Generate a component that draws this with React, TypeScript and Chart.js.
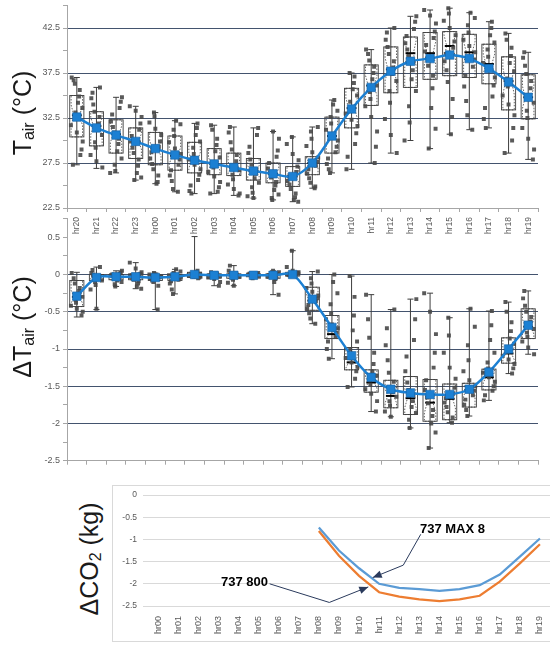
import React, { useEffect, useRef } from 'react';
import { Chart, registerables } from 'chart.js';

Chart.register(...registerables);

// ---------- categories ----------
const hours = ['hr20', 'hr21', 'hr22', 'hr23', 'hr00', 'hr01', 'hr02', 'hr03', 'hr04', 'hr05', 'hr06', 'hr07',
  'hr08', 'hr09', 'hr10', 'hr11', 'hr12', 'hr13', 'hr14', 'hr15', 'hr16', 'hr17', 'hr18', 'hr19'];
const co2Hours = ['hr00', 'hr01', 'hr02', 'hr03', 'hr04', 'hr05', 'hr06', 'hr07', 'hr08', 'hr09',
  'hr10', 'hr11', 'hr12', 'hr13', 'hr14', 'hr15', 'hr16', 'hr17', 'hr18', 'hr19'];

// ---------- Tair (°C) ----------
const tairMean = [32.6, 31.4, 30.6, 29.9, 29.1, 28.4, 27.8, 27.4, 27.0, 26.6, 26.3, 26.0, 27.5, 30.5, 33.5, 35.9, 37.7, 38.8, 39.1, 39.5, 39.1, 38.0, 36.5, 34.8];
const tairMedian = [32.8, 31.6, 30.7, 29.9, 29.1, 28.3, 27.8, 27.4, 27.0, 26.6, 26.3, 26.0, 27.5, 30.5, 33.6, 36.1, 37.9, 39.7, 39.7, 40.5, 39.8, 38.5, 36.6, 34.8];
const tairQ1 = [30.4, 29.4, 28.6, 28.0, 27.3, 26.7, 26.4, 26.2, 26.1, 25.6, 25.3, 24.9, 26.2, 28.6, 31.4, 33.9, 35.3, 35.9, 36.8, 37.2, 37.0, 36.3, 33.4, 32.4];
const tairQ3 = [35.0, 33.2, 32.3, 31.4, 30.9, 30.5, 29.8, 29.1, 28.6, 28.0, 27.5, 27.1, 28.2, 32.6, 35.8, 38.4, 40.4, 41.5, 42.0, 42.1, 41.8, 40.7, 39.3, 37.3];
const tairMin = [27.3, 26.9, 26.4, 25.6, 25.2, 24.3, 24.1, 24.1, 23.9, 23.6, 23.4, 23.2, 24.7, 26.4, 26.8, 27.5, 28.6, 30.0, 29.1, 30.7, 31.2, 31.4, 28.6, 27.9];
const tairMax = [37.0, 35.9, 34.8, 33.8, 33.1, 32.2, 31.9, 31.7, 31.5, 31.4, 31.0, 30.4, 31.5, 34.5, 37.5, 40.1, 42.5, 43.8, 44.5, 44.7, 44.2, 43.2, 41.9, 39.8];
const tairPoints = [
  [37.0, 36.7, 36.3, 35.6, 34.9, 34.2, 33.6, 33.1, 32.4, 31.7, 30.9, 29.9, 29.0, 28.4, 27.3],
  [35.9, 35.3, 34.7, 34.0, 33.2, 32.6, 31.9, 31.2, 30.6, 29.8, 29.2, 28.4, 27.7, 27.0],
  [34.8, 34.3, 33.6, 32.9, 32.1, 31.5, 30.9, 30.2, 29.6, 28.8, 28.0, 27.3, 26.6, 26.4],
  [33.8, 33.3, 32.6, 31.9, 31.2, 30.5, 29.9, 29.2, 28.6, 27.9, 27.2, 26.4, 25.9, 25.6],
  [33.1, 32.7, 32.0, 31.3, 30.6, 29.9, 29.3, 28.7, 28.0, 27.4, 26.8, 26.1, 25.4, 25.2],
  [32.2, 31.8, 31.2, 30.5, 29.8, 29.1, 28.5, 27.9, 27.3, 26.7, 26.1, 25.5, 24.6, 24.3],
  [31.9, 31.4, 30.6, 29.9, 29.2, 28.5, 27.9, 27.3, 26.8, 26.2, 25.6, 25.0, 24.4, 24.1],
  [31.7, 31.2, 30.2, 29.5, 28.8, 28.1, 27.6, 27.0, 26.5, 26.0, 25.4, 24.8, 24.3, 24.1],
  [31.5, 30.9, 29.8, 29.0, 28.4, 27.7, 27.2, 26.7, 26.2, 25.7, 25.1, 24.6, 24.1, 23.9],
  [31.4, 30.6, 29.3, 28.6, 27.9, 27.3, 26.8, 26.3, 25.8, 25.3, 24.8, 24.2, 23.8, 23.6],
  [31.0, 30.2, 28.9, 28.2, 27.5, 26.9, 26.4, 25.9, 25.4, 25.0, 24.5, 24.0, 23.6, 23.4],
  [30.4, 29.6, 28.5, 27.8, 27.1, 26.5, 26.0, 25.5, 25.1, 24.6, 24.1, 23.7, 23.4, 23.2],
  [31.5, 31.0, 30.2, 29.4, 28.7, 28.1, 27.6, 27.2, 26.8, 26.3, 25.8, 25.3, 24.9, 24.7],
  [34.5, 34.0, 33.3, 32.6, 31.9, 31.2, 30.6, 30.0, 29.3, 28.7, 28.0, 27.4, 26.8, 26.4],
  [37.5, 37.1, 36.4, 35.7, 35.0, 34.3, 33.7, 33.0, 32.3, 31.6, 30.8, 29.6, 28.2, 26.8],
  [40.1, 39.6, 38.9, 38.2, 37.5, 36.8, 36.1, 35.4, 34.6, 33.8, 32.6, 31.0, 29.3, 27.5],
  [42.5, 42.0, 41.2, 40.4, 39.6, 38.8, 38.1, 37.4, 36.6, 35.5, 34.2, 32.4, 30.6, 28.6],
  [43.8, 43.2, 42.4, 41.6, 40.8, 40.1, 39.4, 38.7, 37.8, 36.8, 35.5, 33.8, 32.0, 30.0],
  [44.5, 43.9, 43.0, 42.1, 41.4, 40.6, 39.9, 39.1, 38.3, 37.2, 35.8, 33.6, 31.3, 29.1],
  [44.7, 44.1, 43.3, 42.5, 41.7, 41.0, 40.3, 39.6, 38.8, 37.8, 36.5, 34.6, 32.6, 30.7],
  [44.2, 43.6, 42.8, 42.0, 41.2, 40.5, 39.8, 39.0, 38.2, 37.2, 36.0, 34.4, 32.8, 31.2],
  [43.2, 42.5, 41.7, 40.9, 40.1, 39.3, 38.6, 37.9, 37.0, 36.1, 34.9, 33.6, 32.4, 31.4],
  [41.9, 41.2, 40.3, 39.4, 38.6, 37.7, 36.9, 36.0, 35.0, 34.0, 32.8, 31.4, 30.0, 28.6],
  [39.8, 39.2, 38.3, 37.4, 36.6, 35.8, 35.0, 34.2, 33.3, 32.5, 31.4, 30.2, 29.0, 27.9],
];

// ---------- ΔTair (°C) ----------
const dtMean = [-0.29, -0.04, -0.03, -0.03, -0.04, -0.03, 0.0, -0.01, -0.01, -0.01, -0.01, 0.0, -0.33, -0.71, -1.09, -1.38, -1.54, -1.59, -1.61, -1.61, -1.54, -1.31, -1.0, -0.68];
const dtMedian = [-0.3, -0.03, -0.02, -0.02, -0.03, -0.02, 0.0, -0.01, -0.01, -0.01, -0.01, 0.0, -0.35, -0.8, -1.18, -1.45, -1.63, -1.66, -1.72, -1.67, -1.55, -1.38, -1.06, -0.7];
const dtQ1 = [-0.43, -0.08, -0.07, -0.07, -0.08, -0.08, -0.04, -0.05, -0.05, -0.03, -0.05, -0.02, -0.48, -0.86, -1.28, -1.58, -1.79, -1.88, -1.97, -1.95, -1.78, -1.55, -1.19, -0.86];
const dtQ3 = [-0.08, 0.0, 0.0, 0.01, 0.0, 0.0, 0.03, 0.01, 0.01, 0.01, 0.01, 0.03, -0.17, -0.55, -0.98, -1.28, -1.42, -1.37, -1.41, -1.47, -1.46, -1.27, -0.85, -0.46];
const dtMin = [-0.57, -0.47, -0.16, -0.19, -0.47, -0.26, -0.05, -0.15, -0.15, -0.05, -0.27, -0.02, -0.66, -1.13, -1.51, -1.84, -1.91, -2.06, -2.33, -1.99, -1.9, -1.69, -1.33, -1.07];
const dtMax = [0.03, 0.1, 0.05, 0.16, 0.02, 0.07, 0.51, 0.03, 0.12, 0.02, 0.05, 0.32, 0.04, 0.0, -0.02, -0.27, -0.47, -0.33, -0.25, -0.58, -0.46, -0.49, -0.37, -0.22];
const dtPoints = [
  [0.02, -0.05, -0.12, -0.18, -0.22, -0.27, -0.3, -0.34, -0.38, -0.42, -0.46, -0.5, -0.55],
  [0.1, 0.06, 0.02, 0.0, -0.02, -0.03, -0.05, -0.06, -0.08, -0.1, -0.14, -0.2, -0.46],
  [0.05, 0.03, 0.01, 0.0, -0.01, -0.02, -0.03, -0.05, -0.06, -0.08, -0.1, -0.13, -0.16],
  [0.16, 0.08, 0.03, 0.01, 0.0, -0.02, -0.03, -0.05, -0.07, -0.09, -0.12, -0.16, -0.19],
  [0.02, 0.01, 0.0, -0.01, -0.02, -0.03, -0.04, -0.05, -0.06, -0.08, -0.1, -0.15, -0.47],
  [0.07, 0.04, 0.02, 0.0, -0.01, -0.02, -0.03, -0.05, -0.07, -0.09, -0.12, -0.2, -0.26],
  [0.05, 0.03, 0.02, 0.01, 0.0, -0.01, -0.01, -0.02, -0.03, -0.04, -0.05],
  [0.03, 0.02, 0.01, 0.0, -0.01, -0.02, -0.02, -0.03, -0.04, -0.06, -0.1, -0.15],
  [0.12, 0.05, 0.02, 0.01, 0.0, -0.01, -0.02, -0.03, -0.05, -0.07, -0.11, -0.15],
  [0.02, 0.01, 0.01, 0.0, 0.0, -0.01, -0.01, -0.02, -0.02, -0.03, -0.04, -0.05],
  [0.05, 0.03, 0.01, 0.0, -0.01, -0.02, -0.02, -0.03, -0.04, -0.06, -0.1, -0.27],
  [0.32, 0.1, 0.05, 0.03, 0.02, 0.01, 0.0, 0.0, -0.01, -0.01, -0.02, -0.02],
  [0.04, -0.05, -0.12, -0.18, -0.23, -0.28, -0.32, -0.36, -0.41, -0.46, -0.52, -0.59, -0.66],
  [0.0, -0.1, -0.25, -0.4, -0.52, -0.6, -0.67, -0.72, -0.78, -0.84, -0.9, -1.0, -1.13],
  [-0.02, -0.3, -0.55, -0.75, -0.9, -1.0, -1.06, -1.12, -1.18, -1.24, -1.3, -1.4, -1.51],
  [-0.27, -0.6, -0.85, -1.05, -1.2, -1.3, -1.36, -1.42, -1.48, -1.54, -1.6, -1.7, -1.84],
  [-0.47, -0.72, -0.95, -1.15, -1.32, -1.44, -1.52, -1.58, -1.64, -1.7, -1.76, -1.84, -1.91],
  [-0.33, -0.6, -0.88, -1.1, -1.3, -1.45, -1.55, -1.63, -1.7, -1.78, -1.86, -1.95, -2.06],
  [-0.25, -0.5, -0.8, -1.05, -1.25, -1.42, -1.55, -1.65, -1.73, -1.82, -1.9, -2.0, -2.12, -2.33],
  [-0.58, -0.82, -1.05, -1.25, -1.4, -1.52, -1.6, -1.66, -1.72, -1.78, -1.85, -1.92, -1.99],
  [-0.46, -0.7, -0.95, -1.15, -1.3, -1.42, -1.5, -1.56, -1.62, -1.68, -1.75, -1.82, -1.9],
  [-0.49, -0.68, -0.88, -1.05, -1.18, -1.26, -1.32, -1.38, -1.44, -1.5, -1.56, -1.62, -1.69],
  [-0.37, -0.5, -0.64, -0.76, -0.86, -0.93, -0.99, -1.04, -1.09, -1.14, -1.2, -1.26, -1.33],
  [-0.22, -0.32, -0.42, -0.5, -0.57, -0.63, -0.68, -0.73, -0.78, -0.84, -0.9, -0.98, -1.07],
];

// ---------- ΔCO2 (kg) ----------
const co2Max8 = [null, null, null, null, null, null, null, null, -0.73, -1.25, -1.65, -2.0, -2.09, -2.12, -2.16, -2.12, -2.03, -1.79, -1.39, -0.98];
const co2B800 = [null, null, null, null, null, null, null, null, -0.81, -1.37, -1.82, -2.19, -2.29, -2.35, -2.39, -2.35, -2.27, -1.95, -1.54, -1.11];

// ---------- styling ----------
const FONT = '"Liberation Sans", Arial, Helvetica, sans-serif';
const GRID_DARK = '#43536e';
const AXIS_GRAY = '#a6a6a6';
const LABEL_GRAY = '#595959';
const MEAN_BLUE = '#1c80d3';
const POINT_GRAY = 'rgba(72,72,72,0.9)';
const BOX_STROKE = '#3d3d3d';
const ARROW = '#2a3a5c';
const jitter = [-0.26, 0.12, -0.04, 0.24, -0.16, 0.06, -0.3, 0.18, -0.1, 0.28, 0.0, -0.2, 0.15, -0.07, 0.3];

const callouts = [
  { label: '737 MAX 8', align: 'left', text: [13.03, -0.77], path: [[13.07, -0.885], [12.2, -1.58], [10.68, -1.86]] },
  { label: '737 800', align: 'right', text: [5.47, -1.98], path: [[5.55, -2.0], [8.52, -2.42], [10.46, -2.07]] },
];

Chart.defaults.font.family = FONT;

function scatterData(points: number[][]) {
  return points.flatMap((vals, i) =>
    vals.map((v, j) => ({ x: i + jitter[(j * 4 + i * 7) % jitter.length], y: v })));
}

type Stats = { lo: number[]; q1: number[]; q3: number[]; hi: number[]; med: number[] };

function makeBoxPlugin(s: Stats) {
  return {
    id: 'boxes',
    beforeDatasetsDraw(chart: any) {
      const ctx = chart.ctx;
      const xs = chart.scales.x;
      const ys = chart.scales.y;
      const step = xs.getPixelForValue(1) - xs.getPixelForValue(0);
      ctx.save();
      for (let i = 0; i < s.q1.length; i++) {
        const x = xs.getPixelForValue(i);
        const yLo = ys.getPixelForValue(s.lo[i]);
        const yHi = ys.getPixelForValue(s.hi[i]);
        const y1 = ys.getPixelForValue(s.q1[i]);
        const y3 = ys.getPixelForValue(s.q3[i]);
        const ym = ys.getPixelForValue(s.med[i]);
        // whisker + caps
        ctx.setLineDash([]);
        ctx.strokeStyle = BOX_STROKE;
        ctx.lineWidth = 1;
        ctx.beginPath();
        ctx.moveTo(x, yHi); ctx.lineTo(x, yLo);
        ctx.moveTo(x - 3, yHi); ctx.lineTo(x + 3, yHi);
        ctx.moveTo(x - 3, yLo); ctx.lineTo(x + 3, yLo);
        ctx.stroke();
        // solid box
        const bw = step * 0.72;
        ctx.lineWidth = 0.9;
        ctx.strokeRect(x - bw / 2, y3, bw, y1 - y3);
        // dotted notched box
        const dw = step * 0.29;
        const ww = step * 0.15;
        const nh = Math.min((y1 - y3) * 0.25, ym - y3, y1 - ym);
        ctx.setLineDash([1.5, 1.5]);
        ctx.lineWidth = 0.8;
        ctx.beginPath();
        ctx.moveTo(x - dw, y3); ctx.lineTo(x + dw, y3);
        ctx.lineTo(x + dw, ym - nh); ctx.lineTo(x + ww, ym); ctx.lineTo(x + dw, ym + nh);
        ctx.lineTo(x + dw, y1); ctx.lineTo(x - dw, y1);
        ctx.lineTo(x - dw, ym + nh); ctx.lineTo(x - ww, ym); ctx.lineTo(x - dw, ym - nh);
        ctx.closePath();
        ctx.stroke();
        // median
        ctx.setLineDash([]);
        ctx.strokeStyle = '#000';
        ctx.lineWidth = 2;
        ctx.beginPath();
        ctx.moveTo(x - step * 0.25, ym); ctx.lineTo(x + step * 0.25, ym);
        ctx.stroke();
      }
      ctx.restore();
    },
  };
}

function boxPanel(p: any) {
  return {
    type: 'line',
    data: {
      labels: hours,
      datasets: [
        {
          type: 'line', data: p.mean, xAxisID: 'x', yAxisID: 'y',
          borderColor: MEAN_BLUE, backgroundColor: MEAN_BLUE, borderWidth: 2.5,
          pointStyle: 'rect', pointRadius: 6, pointBorderWidth: 0.6, pointBorderColor: '#155fa3',
          tension: 0.3, order: 0,
        },
        {
          type: 'scatter', data: scatterData(p.points), xAxisID: 'xj', yAxisID: 'y',
          backgroundColor: POINT_GRAY, borderWidth: 0, pointStyle: 'rect', pointRadius: 2.8, order: 1,
        },
      ],
    },
    options: {
      responsive: false,
      animation: false,
      events: [],
      layout: { autoPadding: false, padding: { top: p.padTop, right: 12, left: 0, bottom: 0 } },
      plugins: { legend: { display: false }, tooltip: { enabled: false } },
      scales: {
        x: {
          type: 'category', offset: true,
          grid: { offset: true, drawOnChartArea: false, tickLength: 4, color: AXIS_GRAY },
          border: { color: AXIS_GRAY },
          ticks: {
            display: p.showXLabels, minRotation: 90, maxRotation: 90, autoSkip: false, padding: 5,
            color: LABEL_GRAY, font: { family: FONT, size: 8.5 },
          },
          afterFit: (s: any) => { s.height = p.xHeight; s.paddingLeft = 0; s.paddingRight = 0; },
        },
        xj: { type: 'linear', axis: 'x', display: false, min: -0.5, max: 23.5 },
        y: {
          min: p.yMin, max: p.yMax,
          ticks: {
            stepSize: p.step, autoSkip: false, padding: 3,
            color: LABEL_GRAY, font: { family: FONT, size: 9 },
            callback: (v: number) => (p.isMajor(v) ? p.fmt(v) : ''),
          },
          grid: {
            color: (c: any) => (c.tick && p.gridAt(c.tick.value) ? GRID_DARK : 'rgba(0,0,0,0)'),
            tickColor: AXIS_GRAY, tickLength: 4, lineWidth: 1,
          },
          border: { color: AXIS_GRAY },
          afterFit: (s: any) => { s.width = 67; s.paddingTop = 0; s.paddingBottom = 0; },
        },
      },
    },
    plugins: [makeBoxPlugin(p.stats)],
  };
}

const near = (a: number, b: number) => Math.abs(a - b) < 1e-6;

function topConfig() {
  const isMajor = (v: number) => near((v - 22.5) / 5, Math.round((v - 22.5) / 5));
  return boxPanel({
    mean: tairMean, points: tairPoints,
    stats: { lo: tairMin, q1: tairQ1, q3: tairQ3, hi: tairMax, med: tairMedian },
    yMin: 22.5, yMax: 45, step: 2.5, padTop: 5.5, xHeight: 32, showXLabels: true,
    isMajor, fmt: (v: number) => v.toFixed(1),
    gridAt: (v: number) => isMajor(v) && v > 23,
  });
}

function midConfig() {
  const isMajor = (v: number) => near(v * 2, Math.round(v * 2)) && v < 0.7;
  return boxPanel({
    mean: dtMean, points: dtPoints,
    stats: { lo: dtMin, q1: dtQ1, q3: dtQ3, hi: dtMax, med: dtMedian },
    yMin: -2.5, yMax: 0.75, step: 0.25, padTop: 0.7, xHeight: 7.3, showXLabels: false,
    isMajor, fmt: (v: number) => String(Math.round(v * 100) / 100),
    gridAt: (v: number) => isMajor(v) && v > -2.4 && v < 0.3,
  });
}

const calloutPlugin = {
  id: 'callouts',
  afterDatasetsDraw(chart: any) {
    const ctx = chart.ctx;
    const xs = chart.scales.x;
    const ys = chart.scales.y;
    const P = (c: number[]) => [xs.getPixelForValue(c[0]), ys.getPixelForValue(c[1])];
    ctx.save();
    for (const c of callouts) {
      ctx.font = `bold 13px ${FONT}`;
      ctx.fillStyle = '#000';
      ctx.textBaseline = 'middle';
      ctx.textAlign = c.align;
      const [tx, ty] = P(c.text);
      ctx.fillText(c.label, tx, ty);
      const pts = c.path.map(P);
      ctx.strokeStyle = ARROW;
      ctx.lineWidth = 1;
      ctx.beginPath();
      pts.forEach(([x, y], k) => (k ? ctx.lineTo(x, y) : ctx.moveTo(x, y)));
      ctx.stroke();
      const [ax, ay] = pts[pts.length - 2];
      const [bx, by] = pts[pts.length - 1];
      const ang = Math.atan2(by - ay, bx - ax);
      const L = 9, W = 3.8;
      const cs = Math.cos(ang), sn = Math.sin(ang);
      ctx.fillStyle = ARROW;
      ctx.beginPath();
      ctx.moveTo(bx, by);
      ctx.lineTo(bx - L * cs + W * sn, by - L * sn - W * cs);
      ctx.lineTo(bx - L * cs - W * sn, by - L * sn + W * cs);
      ctx.closePath();
      ctx.fill();
    }
    ctx.restore();
  },
};

function co2Config() {
  return {
    type: 'line',
    data: {
      labels: co2Hours,
      datasets: [
        { label: '737 MAX 8', data: co2Max8, borderColor: '#5b9bd5', borderWidth: 2.25, pointRadius: 0, tension: 0 },
        { label: '737 800', data: co2B800, borderColor: '#ed7d31', borderWidth: 2.25, pointRadius: 0, tension: 0 },
      ],
    },
    options: {
      responsive: false,
      animation: false,
      events: [],
      layout: { autoPadding: false, padding: { top: 9, right: 31, left: 0, bottom: 0 } },
      plugins: { legend: { display: false }, tooltip: { enabled: false } },
      scales: {
        x: {
          offset: true,
          grid: { display: false },
          border: { display: false },
          ticks: {
            minRotation: 90, maxRotation: 90, autoSkip: false, padding: 2,
            color: LABEL_GRAY, font: { family: FONT, size: 9 },
          },
          afterFit: (s: any) => { s.height = 35; s.paddingLeft = 0; s.paddingRight = 0; },
        },
        y: {
          min: -2.5, max: 0,
          ticks: {
            stepSize: 0.5, padding: 6, color: LABEL_GRAY, font: { family: FONT, size: 8.5 },
            callback: (v: number) => String(Math.round(v * 100) / 100),
          },
          grid: { color: '#d9d9d9', tickColor: '#d9d9d9', tickLength: 5, lineWidth: 1 },
          border: { display: false },
          afterFit: (s: any) => { s.width = 35; s.paddingTop = 0; s.paddingBottom = 0; },
        },
      },
    },
    plugins: [calloutPlugin],
  };
}

const titleStyle = (left: number, top: number): React.CSSProperties => ({
  position: 'absolute',
  left,
  top,
  transform: 'translate(-50%, -50%) rotate(-90deg)',
  whiteSpace: 'nowrap',
  fontFamily: FONT,
  fontSize: 25,
  lineHeight: 1,
  color: '#1a1a1a',
});

const subStyle: React.CSSProperties = { fontSize: '0.64em', verticalAlign: '-0.22em', lineHeight: 0 };

export default function App() {
  const topRef = useRef<HTMLCanvasElement>(null);
  const midRef = useRef<HTMLCanvasElement>(null);
  const co2Ref = useRef<HTMLCanvasElement>(null);

  useEffect(() => {
    const charts = [
      new Chart(topRef.current as HTMLCanvasElement, topConfig() as any),
      new Chart(midRef.current as HTMLCanvasElement, midConfig() as any),
      new Chart(co2Ref.current as HTMLCanvasElement, co2Config() as any),
    ];
    return () => charts.forEach((c) => c.destroy());
  }, []);

  return (
    <div style={{ position: 'fixed', left: 0, top: 0, width: 550, height: 648, overflow: 'hidden', background: '#fff' }}>
      <canvas ref={topRef} width={550} height={240} style={{ position: 'absolute', left: 0, top: 0, width: 550, height: 240 }} />
      <canvas ref={midRef} width={550} height={250} style={{ position: 'absolute', left: 0, top: 218, width: 550, height: 250 }} />
      <div style={{ position: 'absolute', left: 112, top: 485, width: 470, height: 157, boxSizing: 'border-box', border: '1px solid #d9d9d9', overflow: 'hidden' }}>
        <canvas ref={co2Ref} width={468} height={155} style={{ display: 'block', width: 468, height: 155 }} />
      </div>
      <div style={titleStyle(22, 113)}>T<span style={subStyle}>air</span> (°C)</div>
      <div style={titleStyle(22, 327)}>ΔT<span style={subStyle}>air</span> (°C)</div>
      <div style={titleStyle(89, 559)}>ΔCO<span style={subStyle}>2</span> (kg)</div>
    </div>
  );
}
